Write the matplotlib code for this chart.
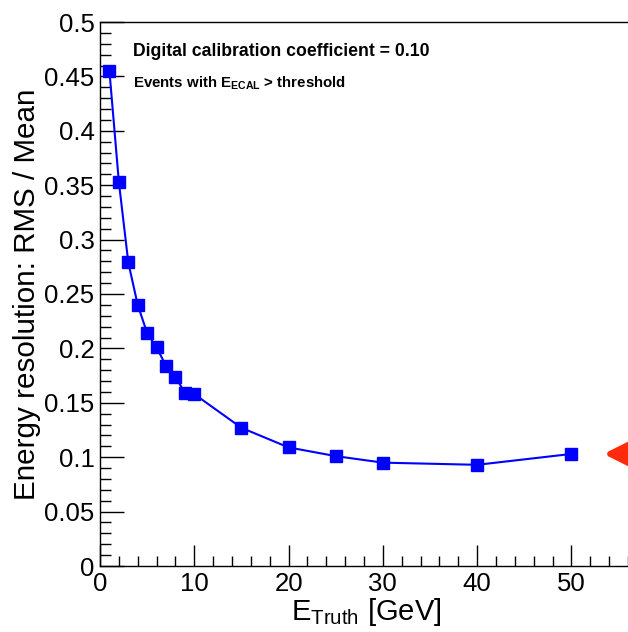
import matplotlib

matplotlib.use("Agg")
import matplotlib.pyplot as plt
from matplotlib.ticker import MultipleLocator, FuncFormatter

plt.rcParams["font.family"] = ["Liberation Sans", "DejaVu Sans"]
plt.rcParams["mathtext.fontset"] = "custom"
plt.rcParams["mathtext.rm"] = "Liberation Sans"
plt.rcParams["mathtext.bf"] = "Liberation Sans:bold"

# energy points (GeV) and resolution RMS/Mean
e_truth = [1, 2, 3, 4, 5, 6, 7, 8, 9, 10, 15, 20, 25, 30, 40, 50]
resolution = [0.455, 0.353, 0.279, 0.240, 0.214, 0.201, 0.184, 0.174,
              0.159, 0.158, 0.127, 0.109, 0.101, 0.095, 0.093, 0.103]

arrow_y = 0.103
calib_coef = "0.10"

fig = plt.figure(figsize=(6.28, 6.32), dpi=100)
ax = fig.add_axes([100 / 628, 66 / 632, 528 / 628, 544 / 632])

ax.plot(e_truth, resolution, color="#0000ff", lw=1.5, marker="s",
        markersize=8, markeredgecolor="#0000ff", zorder=3)

ax.set_xlim(0, 56)
ax.set_ylim(0, 0.5)
ax.xaxis.set_major_locator(MultipleLocator(10))
ax.xaxis.set_minor_locator(MultipleLocator(2))
ax.yaxis.set_major_locator(MultipleLocator(0.05))
ax.yaxis.set_minor_locator(MultipleLocator(0.01))
ax.yaxis.set_major_formatter(FuncFormatter(
    lambda v, p: f"{v:.2f}".rstrip("0").rstrip(".") if v else "0"))

ax.tick_params(which="both", direction="in", labelsize=18.5, top=False,
               right=False, width=1)
ax.tick_params(axis="y", which="major", length=17, pad=4)
ax.tick_params(axis="y", which="minor", length=8)
ax.tick_params(axis="x", which="major", length=15, pad=4)
ax.tick_params(axis="x", which="minor", length=7)
for s in ax.spines.values():
    s.set_linewidth(1)
ax.spines["right"].set_visible(False)

ax.set_xlabel(r"E$_{\mathregular{Truth}}$ [GeV]", fontsize=21)
ax.set_ylabel("Energy resolution: RMS / Mean", fontsize=21.3)
ax.xaxis.set_label_coords((366 - 100) / 528, -0.085)
ax.yaxis.set_label_coords((27 - 100) / 528, (632 - 294 - 66) / 544)
ax.yaxis.label.set_va("center")
ax.xaxis.label.set_va("center")

ax.text(133 / 628, 1 - 51 / 632,
        f"Digital calibration coefficient = {calib_coef}",
        transform=fig.transFigure, fontsize=12.7, fontweight="bold",
        va="center", ha="left")
ax.text(133 / 628, 1 - 83 / 632,
        r"Events with E$_{\mathbf{ECAL}}$ > threshold",
        transform=fig.transFigure, fontsize=10.8, fontweight="bold",
        va="center", ha="left")

ax.annotate("", xy=(53.4, arrow_y), xytext=(58, arrow_y),
            arrowprops=dict(arrowstyle="-|>,head_length=1.5,head_width=0.75",
                            color="#ff2a0c", lw=4.5, shrinkA=0, shrinkB=0),
            annotation_clip=False)

fig.savefig("out.png", dpi=100)
